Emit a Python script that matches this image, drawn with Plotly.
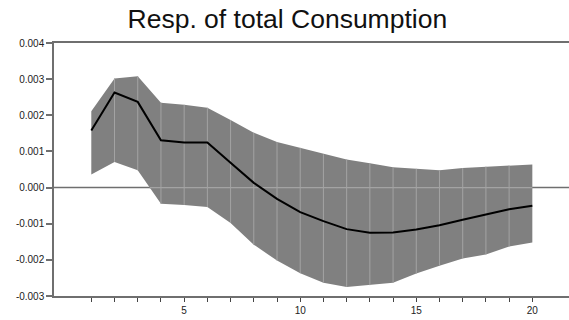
import numpy as np
import plotly.graph_objects as go

# Impulse response of total consumption with error band
horizon = list(range(1, 21))
response = [0.00158, 0.00263, 0.00237, 0.00131, 0.00125, 0.00125, 0.00069, 0.00013,
            -0.00031, -0.00068, -0.00093, -0.00115, -0.00125, -0.00124, -0.00116,
            -0.00104, -0.00089, -0.00074, -0.00060, -0.00050]
upper = [0.00211, 0.00302, 0.00308, 0.00235, 0.00229, 0.00221, 0.00187, 0.00152,
         0.00126, 0.00110, 0.00092, 0.00078, 0.00067, 0.00056, 0.00052,
         0.00048, 0.00054, 0.00058, 0.00061, 0.00064]
lower = [0.00036, 0.00071, 0.00048, -0.00045, -0.00048, -0.00054, -0.00098, -0.00158,
         -0.00202, -0.00237, -0.00263, -0.00275, -0.00270, -0.00263, -0.00238,
         -0.00216, -0.00196, -0.00185, -0.00163, -0.00152]
y_ticks = [-0.003, -0.002, -0.001, 0.0, 0.001, 0.002, 0.003, 0.004]
x_labels = {5: "5", 10: "10", 15: "15", 20: "20"}

band_color = "#808080"
seam_color = "#a3a3a3"
axis_color = "#6f6f6f"

fig = go.Figure()

# Band polygon
fig.add_trace(go.Scatter(
    x=horizon + horizon[::-1], y=upper + lower[::-1],
    fill="toself", fillcolor=band_color, line=dict(width=0),
    mode="lines", hoverinfo="skip", showlegend=False))

# Light seams at each horizon step inside the band
sx, sy = [], []
for h, lo, up in zip(horizon[1:-1], lower[1:-1], upper[1:-1]):
    sx += [h, h, None]
    sy += [lo, up, None]
fig.add_trace(go.Scatter(x=sx, y=sy, mode="lines",
                         line=dict(color=seam_color, width=1),
                         hoverinfo="skip", showlegend=False))

# Zero line where it passes through the band
lo_arr = np.array(lower)
k = int(np.argmax(lo_arr < 0))
x_cross = horizon[k - 1] + lo_arr[k - 1] / (lo_arr[k - 1] - lo_arr[k])
fig.add_trace(go.Scatter(x=[x_cross, horizon[-1]], y=[0, 0], mode="lines",
                         line=dict(color=seam_color, width=1.2),
                         hoverinfo="skip", showlegend=False))

# Point estimate
fig.add_trace(go.Scatter(x=horizon, y=response, mode="lines",
                         line=dict(color="black", width=2),
                         showlegend=False))

# Zero line across the plot (behind the band)
fig.add_shape(type="line", xref="paper", x0=0, x1=1, yref="y", y0=0, y1=0,
              line=dict(color=axis_color, width=1.5), layer="below")

fig.update_layout(
    width=569, height=320,
    margin=dict(l=54, r=0, t=43, b=24),
    paper_bgcolor="white", plot_bgcolor="white",
    font=dict(family="Liberation Sans, Arial, sans-serif", size=10, color="#222222"),
    title=dict(text="Resp. of total Consumption", xref="container", x=0.505,
               xanchor="center", yref="container", y=0.94, yanchor="middle",
               font=dict(size=26.5, color="#111111")),
    xaxis=dict(range=[-0.607, 21.58], showgrid=False, zeroline=False,
               showline=True, linecolor=axis_color, linewidth=1.5, mirror=True,
               tickmode="array", tickvals=horizon,
               ticktext=[x_labels.get(h, "") for h in horizon],
               ticks="outside", ticklen=4, tickcolor="#444444", tickwidth=1),
    yaxis=dict(range=[-0.003, 0.004], showgrid=False, zeroline=False,
               showline=True, linecolor=axis_color, linewidth=1.5,
               tickmode="array", tickvals=y_ticks,
               ticktext=[f"{v:.3f}".replace("\u2212", "-") for v in y_ticks],
               ticks="outside", ticklen=6, tickcolor=axis_color, tickwidth=1.5),
)

fig.write_html("out.html")
